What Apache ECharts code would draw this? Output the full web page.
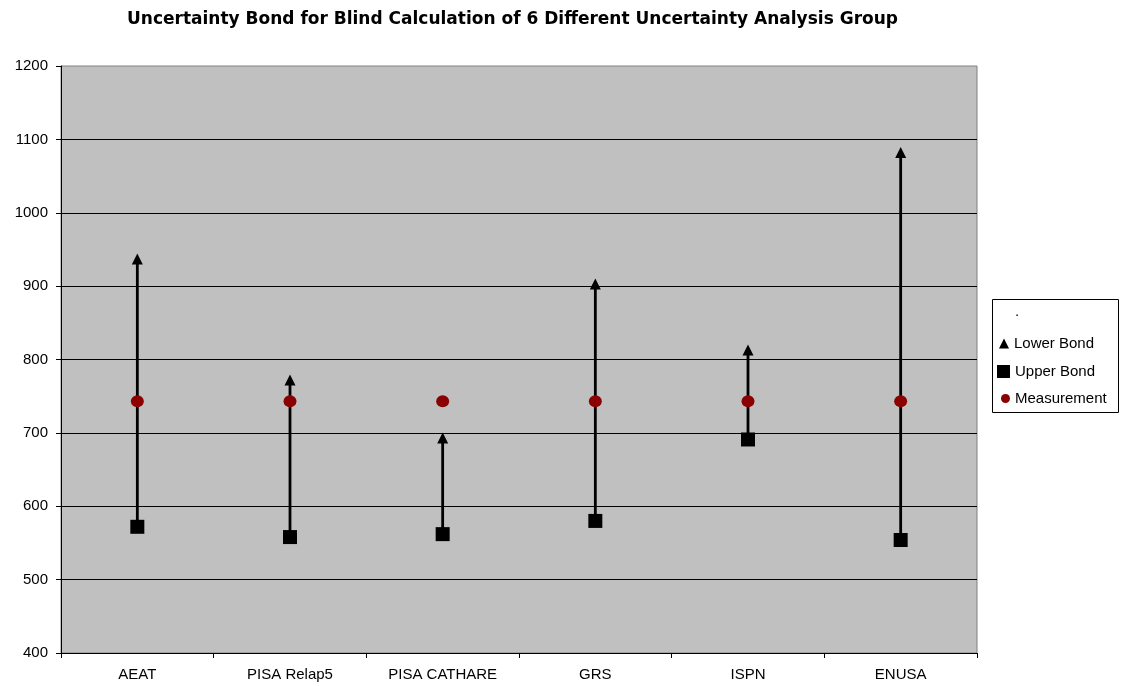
<!DOCTYPE html>
<html><head><meta charset="utf-8">
<script src="https://cdn.jsdelivr.net/npm/echarts@6/dist/echarts.min.js"></script>
<style>html,body{margin:0;padding:0;background:#fff}#c{width:1125px;height:686px}</style>
</head><body><div id="c"></div>
<script>
const categories = ['AEAT', 'PISA Relap5', 'PISA CATHARE', 'GRS', 'ISPN', 'ENUSA'];
const lowerBond = [937, 772, 693, 903, 813, 1082];
const upperBond = [572, 558, 562, 580, 691, 554];
const measurement = [743, 743, 743, 743, 743, 743];
const yTicks = [400, 1200, 100];

const chart = echarts.init(document.getElementById('c'));
const font = 'Liberation Sans, Arial, sans-serif';
const legTxt = {fontFamily: font, fontSize: 15, color: '#000'};
function leg(name, icon, size, left, top) {
  return {orient: 'vertical', left: left, top: top, padding: 0, itemWidth: size, itemHeight: size,
          textStyle: legTxt, data: [{name: name, icon: icon}]};
}
chart.setOption({
  animation: false,
  backgroundColor: '#fff',
  title: {
    text: 'Uncertainty Bond for Blind Calculation of 6 Different Uncertainty Analysis Group',
    left: 122, top: 6,
    textStyle: {fontFamily: 'DejaVu Sans, sans-serif', fontWeight: 'bold', fontSize: 17, color: '#000'}
  },
  grid: {left: 61, right: 148, top: 66, bottom: 33, show: true, backgroundColor: '#C0C0C0', borderColor: '#808080', borderWidth: 1},
  graphic: [{type: 'rect', left: 992, top: 299, shape: {width: 126, height: 113},
             style: {fill: '#fff', stroke: '#000', lineWidth: 1}, z: -1}],
  legend: [
    leg('.', 'none', 10, 1000, 304),
    leg('Lower Bond', 'triangle', 10, 999, 336),
    leg('Upper Bond', 'rect', 13, 997, 364),
    leg('Measurement', 'circle', 9, 1001, 391)
  ],
  xAxis: {
    type: 'category', data: categories, boundaryGap: true,
    axisLine: {lineStyle: {color: '#000', width: 1}},
    axisTick: {show: true, interval: 0, length: 5, lineStyle: {color: '#000'}},
    axisLabel: {fontFamily: font, fontSize: 15, color: '#000', margin: 14}
  },
  yAxis: {
    type: 'value', min: yTicks[0], max: yTicks[1], interval: yTicks[2],
    axisLine: {show: true, lineStyle: {color: '#000', width: 1}},
    axisTick: {show: true, length: 5, lineStyle: {color: '#000'}},
    axisLabel: {fontFamily: font, fontSize: 15, color: '#000', margin: 13, formatter: v => String(v)},
    splitLine: {showMaxLine: false, lineStyle: {color: '#000', width: 1}}
  },
  series: [
    {
      name: '.', type: 'custom',
      data: categories.map((c, i) => [i, upperBond[i], lowerBond[i]]),
      renderItem: function (params, api) {
        const p1 = api.coord([api.value(0), api.value(1)]);
        const p2 = api.coord([api.value(0), api.value(2)]);
        return {type: 'line', shape: {x1: p1[0], y1: p1[1], x2: p2[0], y2: p2[1]},
                style: {stroke: '#000', lineWidth: 2.8}};
      },
      z: 1
    },
    {name: 'Upper Bond', type: 'scatter', data: upperBond, symbol: 'rect', symbolSize: 14,
     itemStyle: {color: '#000', opacity: 1}, z: 2},
    {name: 'Lower Bond', type: 'scatter', data: lowerBond, symbol: 'triangle', symbolSize: [11, 11],
     itemStyle: {color: '#000', opacity: 1}, z: 3},
    {name: 'Measurement', type: 'scatter', data: measurement, symbol: 'circle', symbolSize: [13, 12],
     itemStyle: {color: '#8B0000', opacity: 1}, z: 4}
  ]
});
</script></body></html>
